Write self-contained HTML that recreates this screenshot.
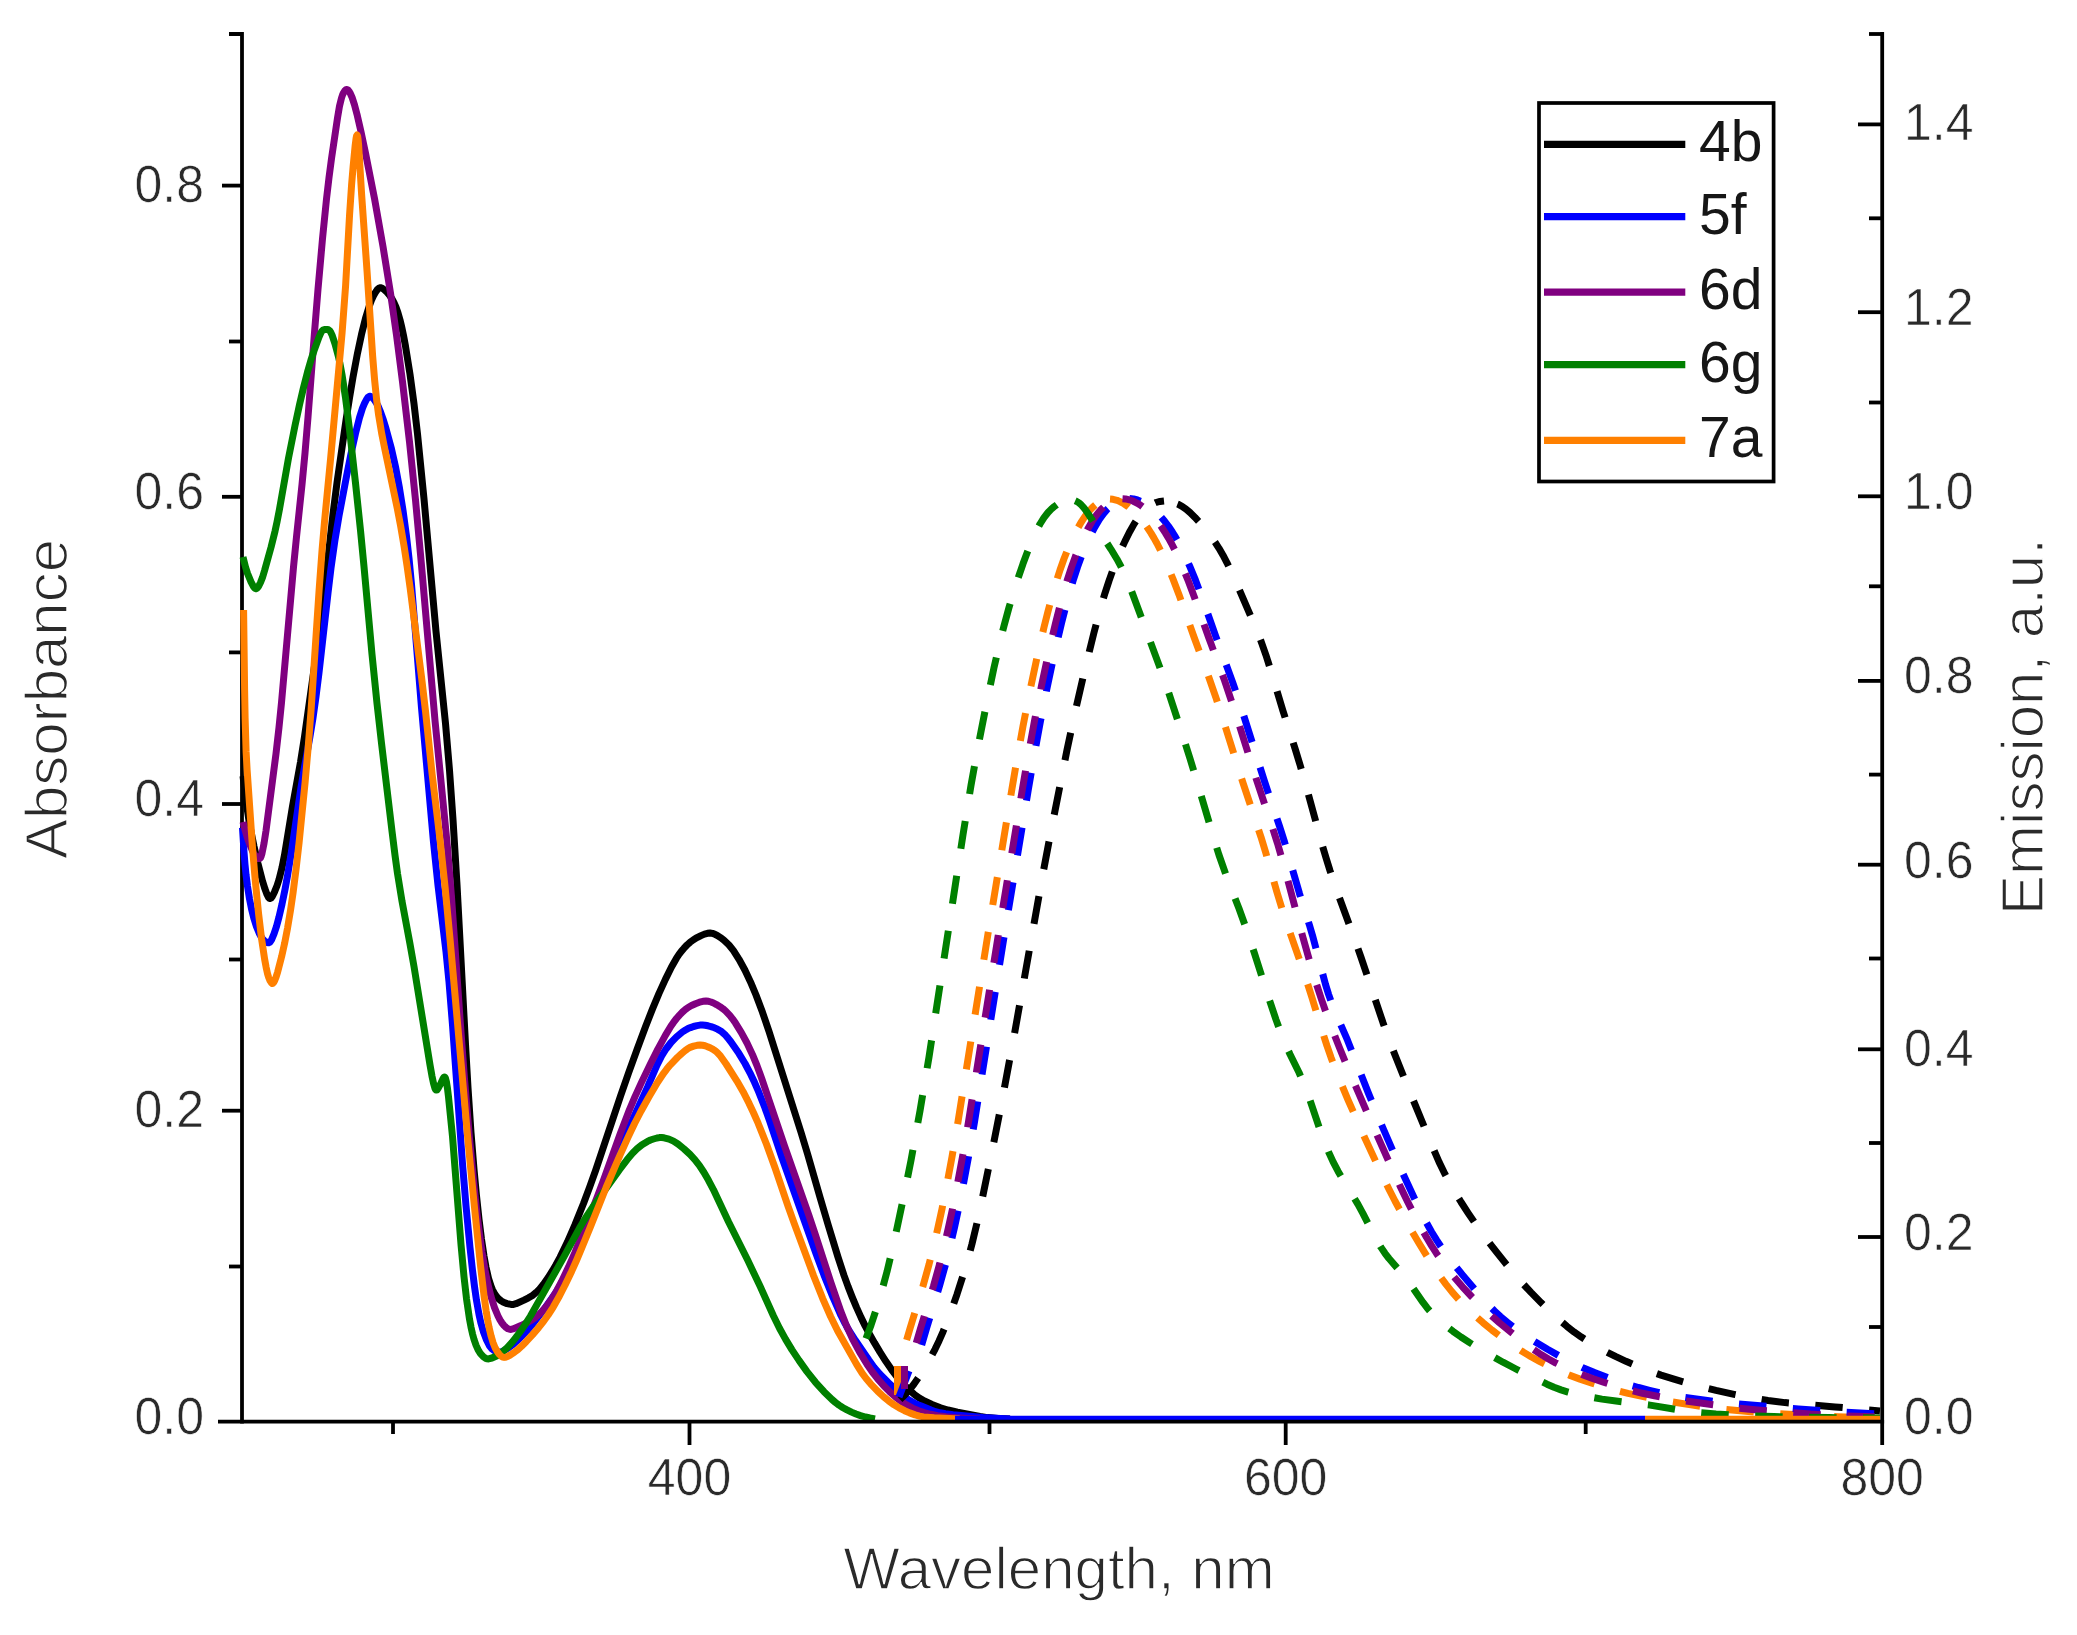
<!DOCTYPE html>
<html lang="en"><head><meta charset="utf-8"><title>Absorbance and emission spectra</title>
<style>
html,body{margin:0;padding:0;background:#fff;}
body{width:2077px;height:1635px;overflow:hidden;}
svg{display:block;font-family:"Liberation Sans",sans-serif;}
</style></head><body>
<svg width="2077" height="1635" viewBox="0 0 2077 1635">
<rect width="2077" height="1635" fill="#ffffff"/>
<defs><clipPath id="plot"><rect x="200" y="34.0" width="1682.2" height="1387.7"/></clipPath></defs>
<g stroke="#000" stroke-width="3.8" fill="none">
<line x1="242.0" y1="32.1" x2="242.0" y2="1423.6"/>
<line x1="229.0" y1="1266.5" x2="242.0" y2="1266.5"/>
<line x1="222.0" y1="1110.7" x2="242.0" y2="1110.7"/>
<line x1="229.0" y1="959.5" x2="242.0" y2="959.5"/>
<line x1="222.0" y1="804.0" x2="242.0" y2="804.0"/>
<line x1="229.0" y1="652.4" x2="242.0" y2="652.4"/>
<line x1="222.0" y1="496.8" x2="242.0" y2="496.8"/>
<line x1="229.0" y1="341.5" x2="242.0" y2="341.5"/>
<line x1="222.0" y1="185.6" x2="242.0" y2="185.6"/>
<line x1="229.0" y1="34.0" x2="242.0" y2="34.0"/>
</g>
<g fill="none" stroke-width="7.0" stroke-linejoin="round" clip-path="url(#plot)">
<path stroke="#000000" d="M243.0 776.0L247.0 807.7L249.0 820.6L251.0 831.7L254.0 846.3L258.0 863.5L262.5 881.0L265.0 889.1L267.0 894.4L268.5 897.3L269.5 898.4L270.0 898.5L271.0 898.1L272.5 896.1L274.5 891.9L277.0 885.7L279.0 879.5L282.0 867.6L284.5 855.0L292.5 806.4L300.5 762.1L304.5 736.7L314.5 666.1L320.5 621.0L325.0 584.2L333.0 514.1L337.0 482.6L346.0 420.2L349.5 397.9L353.0 377.2L357.5 353.2L361.5 334.4L365.5 318.4L369.5 305.4L371.5 300.1L373.5 295.7L375.5 292.2L377.5 289.4L379.0 288.1L380.5 287.7L382.0 288.1L384.0 289.5L387.0 292.3L389.5 295.2L392.0 299.0L394.0 302.7L396.0 307.2L398.0 312.9L400.0 319.9L401.5 326.0L403.5 335.5L405.5 346.2L410.0 374.3L414.0 403.7L417.5 433.8L424.0 498.9L436.0 631.4L445.5 723.4L449.5 770.2L453.0 819.6L457.0 884.5L465.5 1044.2L468.0 1087.8L471.0 1132.4L474.0 1169.4L476.5 1195.9L479.0 1219.1L481.5 1239.2L484.0 1256.1L486.0 1267.2L488.5 1278.2L491.0 1286.1L492.5 1289.8L494.0 1292.7L496.0 1295.8L498.5 1298.7L501.0 1300.8L503.5 1302.3L507.0 1303.6L511.0 1304.4L513.5 1304.4L516.0 1303.7L524.0 1300.1L528.5 1297.8L532.5 1295.4L536.0 1292.6L539.5 1289.1L543.5 1284.2L548.0 1277.8L552.5 1270.7L556.0 1264.7L560.0 1257.3L567.5 1241.9L575.0 1224.6L583.5 1203.5L589.5 1187.6L595.5 1170.8L620.5 1096.2L628.5 1073.2L637.5 1048.2L645.5 1026.7L652.5 1008.9L659.0 993.4L665.5 979.1L671.5 967.0L676.5 958.2L679.0 954.4L681.5 951.1L684.0 948.2L687.0 945.0L690.0 942.3L693.5 939.7L697.0 937.6L701.0 935.6L704.5 934.1L707.5 933.3L710.0 933.0L712.5 933.4L715.0 934.3L717.5 935.6L720.5 937.6L724.0 940.3L729.0 945.0L733.5 950.6L739.0 959.3L745.0 970.3L750.5 981.9L756.0 995.0L762.5 1012.3L769.0 1031.4L801.0 1132.3L807.5 1153.8L820.0 1197.3L828.5 1226.1L838.0 1257.1L844.0 1275.4L848.0 1286.4L852.0 1296.6L856.5 1307.4L861.0 1317.4L865.0 1325.6L869.0 1333.2L874.5 1342.9L880.0 1352.1L886.0 1361.6L891.5 1369.6L896.5 1376.2L902.0 1382.6L908.0 1388.8L914.0 1394.2L919.0 1397.9L924.5 1401.0L932.0 1404.5L940.5 1407.8L948.0 1410.0L957.5 1412.2L980.0 1416.4L987.5 1417.6L998.0 1418.6L1010.0 1419.0"/>
<path stroke="#0000ff" d="M242.5 827.8L244.0 851.9L245.0 864.6L246.0 874.5L247.5 886.3L249.5 898.9L251.5 908.9L254.0 918.8L256.5 926.7L259.5 933.8L261.0 936.6L262.5 938.9L264.0 940.5L265.5 941.7L267.0 942.5L268.5 942.8L269.5 942.5L270.0 942.1L271.5 939.8L274.0 933.8L276.5 926.3L279.0 917.0L282.0 904.1L285.0 889.5L287.5 875.9L291.5 851.5L301.0 787.6L304.0 769.9L310.0 736.5L313.0 717.9L316.0 696.7L319.0 672.9L328.0 593.1L331.0 568.2L335.0 539.8L339.0 516.0L346.5 476.3L351.0 453.7L355.5 433.5L359.5 417.6L362.5 408.1L364.5 403.4L366.5 399.5L368.0 397.4L369.5 396.3L370.5 396.3L372.0 397.1L374.0 399.3L376.5 403.2L378.5 407.0L380.5 411.8L383.0 418.9L386.0 428.6L391.5 448.9L395.5 466.7L399.5 488.2L403.0 510.3L406.5 536.2L409.0 558.2L411.5 584.3L421.5 707.8L433.5 842.1L438.0 885.3L446.0 951.8L449.0 982.0L452.5 1025.0L462.5 1163.8L466.0 1205.7L470.0 1247.5L472.5 1270.3L474.5 1286.5L476.5 1300.4L479.0 1314.5L481.0 1323.4L483.5 1332.1L486.5 1340.0L489.5 1345.8L491.5 1348.5L493.5 1350.2L496.5 1351.5L498.5 1351.9L500.0 1351.9L502.0 1351.6L504.5 1350.4L509.0 1347.5L512.5 1345.0L517.0 1341.0L521.5 1336.6L527.0 1330.7L532.0 1324.9L542.5 1311.4L555.0 1293.7L561.0 1284.4L566.5 1275.1L571.0 1266.6L575.5 1257.1L582.5 1240.6L603.0 1189.1L611.5 1168.7L633.5 1117.6L647.5 1087.2L657.0 1065.2L661.5 1056.2L666.0 1049.0L671.0 1042.5L676.5 1036.9L682.5 1031.9L685.5 1030.0L688.0 1028.6L690.5 1027.6L693.5 1026.5L697.0 1025.6L700.0 1025.1L702.5 1025.0L705.0 1025.2L708.0 1025.8L711.0 1026.6L714.5 1027.8L717.5 1029.2L721.5 1031.6L725.5 1035.2L728.0 1038.1L731.0 1042.0L739.0 1053.6L745.0 1063.5L751.0 1074.9L754.5 1082.3L758.0 1090.3L765.0 1108.0L769.5 1120.7L781.5 1156.4L816.0 1253.6L824.0 1275.1L833.0 1297.4L841.0 1315.5L845.0 1323.4L848.5 1329.7L855.5 1340.6L869.0 1360.3L874.0 1367.2L880.0 1374.2L888.0 1382.3L897.0 1390.7L905.0 1397.2L909.5 1400.3L914.5 1403.1L920.0 1405.6L931.0 1410.1L935.5 1411.7L940.0 1412.8L945.5 1413.7L953.0 1414.7L983.0 1417.5L996.0 1418.3L1010.0 1419.0"/>
<path stroke="#800080" d="M243.0 822.0L245.0 829.8L247.0 836.6L249.0 842.4L252.0 849.7L253.5 853.0L255.0 855.4L257.0 857.5L258.5 858.5L259.5 858.6L260.0 858.3L260.5 857.7L261.0 856.6L262.0 853.4L264.0 843.5L266.0 830.8L276.0 753.7L279.0 727.4L281.5 702.7L293.5 567.1L296.5 536.8L302.0 484.7L305.0 453.2L308.0 417.3L314.5 332.4L318.0 289.3L322.5 238.8L326.5 199.0L329.0 177.6L331.5 158.6L337.5 118.0L339.5 106.2L341.5 98.0L342.5 95.0L343.5 92.8L345.0 90.5L346.0 89.6L347.0 89.4L348.0 90.0L349.0 91.2L350.0 92.8L352.0 97.2L354.5 104.9L357.0 114.3L361.0 131.8L365.5 152.9L374.5 198.5L383.0 246.5L390.5 293.0L396.5 334.9L402.5 381.8L409.5 441.8L415.5 499.9L421.0 559.8L435.0 720.5L447.5 847.5L451.5 897.4L460.5 1025.5L464.5 1079.0L469.5 1138.3L474.5 1190.7L477.0 1213.9L479.5 1234.3L482.0 1252.0L485.0 1269.9L488.0 1284.6L491.0 1296.6L494.5 1307.6L498.0 1316.0L500.0 1319.9L502.0 1323.0L504.0 1325.5L506.0 1327.4L508.0 1328.8L509.5 1329.3L511.0 1329.4L513.0 1328.9L521.0 1325.6L526.5 1322.9L531.5 1320.1L535.5 1317.3L539.5 1313.9L543.5 1309.8L547.5 1304.9L551.5 1299.4L556.5 1291.2L561.5 1281.7L568.5 1267.1L575.0 1252.4L587.5 1221.8L597.5 1196.4L603.5 1180.3L620.5 1133.0L629.5 1109.6L635.0 1096.6L641.5 1082.4L650.5 1063.7L658.0 1048.9L665.5 1035.1L671.0 1026.0L673.5 1022.4L676.5 1018.5L679.5 1015.1L682.5 1012.0L685.5 1009.4L688.5 1007.2L691.5 1005.5L695.5 1003.7L699.5 1002.2L703.0 1001.3L706.0 1001.0L708.5 1001.3L711.0 1002.0L713.5 1003.0L716.5 1004.6L720.0 1006.7L723.0 1008.8L725.5 1010.9L730.0 1015.6L732.5 1018.8L735.5 1023.1L741.5 1032.8L747.0 1043.0L752.5 1054.7L757.0 1065.6L761.5 1077.9L784.5 1145.9L809.0 1215.6L815.5 1235.0L831.0 1282.9L841.0 1311.8L846.5 1325.8L852.5 1338.8L859.5 1351.9L867.0 1364.2L872.0 1371.5L877.5 1378.6L883.5 1385.5L889.5 1391.6L895.5 1397.0L901.0 1401.3L906.5 1404.9L912.5 1408.1L918.5 1410.7L924.0 1412.6L930.5 1414.3L937.5 1415.6L946.0 1416.7L956.0 1417.7L968.5 1418.5L980.0 1419.0"/>
<path stroke="#008000" d="M243.0 557.0L245.5 567.0L247.5 573.4L251.0 581.8L253.5 586.6L254.5 587.9L255.5 588.6L256.0 588.7L257.0 588.3L258.5 586.5L260.5 582.5L262.5 577.4L264.5 570.8L271.0 547.4L275.0 531.3L277.0 522.0L279.5 509.1L288.5 458.1L295.0 425.6L299.5 404.8L303.5 387.6L307.5 372.0L311.0 359.9L314.0 350.8L319.0 337.1L321.0 332.6L322.0 331.0L323.0 330.1L324.5 329.6L327.0 329.5L328.5 329.8L329.5 330.5L330.5 331.8L332.0 334.9L335.0 343.8L338.5 356.8L340.0 363.8L342.0 374.6L345.5 397.6L349.5 429.4L355.5 483.0L360.5 530.4L364.0 566.7L372.0 654.2L377.0 703.4L381.5 743.2L392.0 831.1L395.0 855.2L397.5 873.5L402.0 901.2L410.0 944.0L414.0 966.5L430.0 1064.9L432.0 1076.2L433.5 1083.3L435.0 1088.5L435.5 1089.5L436.0 1090.1L436.5 1090.1L437.0 1089.9L438.0 1088.5L441.0 1083.1L443.0 1078.8L444.0 1077.3L444.5 1077.1L445.0 1077.3L445.5 1078.3L446.5 1082.2L447.5 1088.6L448.5 1096.9L452.5 1136.5L461.0 1244.5L464.0 1276.7L466.5 1298.7L469.5 1319.2L471.0 1327.2L472.5 1333.8L474.0 1339.3L476.0 1345.1L478.0 1349.6L480.5 1353.7L483.5 1356.9L486.0 1358.5L487.0 1358.8L488.5 1358.9L492.0 1358.0L496.5 1356.0L501.5 1352.7L507.0 1347.8L512.0 1342.4L516.5 1336.8L521.5 1329.9L526.0 1323.2L530.5 1316.0L563.5 1257.6L579.5 1228.1L585.5 1218.0L593.5 1206.0L619.5 1169.6L627.0 1159.8L632.5 1153.3L637.0 1148.8L642.0 1144.7L647.5 1141.4L650.5 1140.0L653.5 1139.0L657.0 1138.0L659.5 1137.6L661.5 1137.5L664.0 1137.8L669.0 1139.1L673.5 1141.1L678.0 1144.0L684.0 1148.9L690.0 1154.4L695.0 1159.8L699.5 1165.6L704.0 1172.5L708.5 1180.3L713.5 1189.8L728.5 1221.8L748.0 1260.8L760.0 1286.1L773.5 1316.0L779.5 1328.2L785.5 1339.1L792.0 1349.9L799.0 1360.4L807.0 1371.6L815.5 1382.3L824.0 1391.7L832.0 1399.5L835.5 1402.5L839.0 1405.1L843.0 1407.7L847.0 1409.9L851.5 1412.1L856.0 1414.0L860.5 1415.6L865.5 1417.0L870.0 1418.0L875.0 1418.9"/>
<path stroke="#ff8000" d="M243.6 610.0L244.6 689.5L245.1 717.6L246.1 751.7L247.1 769.6L252.6 849.0L255.1 878.8L258.6 913.8L261.6 939.0L264.6 959.0L266.1 967.2L267.6 973.9L268.6 977.2L270.1 980.9L271.6 983.1L272.1 983.4L272.6 983.4L273.6 982.6L274.6 980.8L276.1 976.9L277.6 972.2L281.6 956.7L284.6 943.3L287.6 927.8L290.6 909.7L293.1 892.4L296.1 868.8L299.1 842.5L305.1 782.3L308.1 748.2L311.1 709.8L319.1 590.2L322.1 549.6L324.6 520.7L330.6 458.7L342.1 332.8L345.6 285.7L349.6 214.3L351.6 184.8L353.1 166.8L355.1 146.0L356.1 138.2L356.6 135.8L357.1 135.0L357.6 136.1L358.1 139.5L358.6 145.0L361.6 194.2L367.1 272.0L372.6 355.6L374.6 379.9L376.6 399.5L378.6 415.0L381.6 433.0L384.6 448.1L397.1 507.5L400.6 525.9L404.1 546.4L407.1 566.1L410.1 587.7L421.6 677.8L425.6 712.0L432.1 774.0L440.1 840.3L445.1 887.3L450.1 939.8L468.1 1142.0L474.6 1208.5L480.6 1266.5L484.1 1296.3L486.1 1310.6L487.6 1319.8L489.1 1327.6L491.1 1336.1L493.1 1342.7L495.1 1347.7L497.1 1351.3L499.1 1354.1L501.1 1356.1L502.6 1357.1L504.1 1357.4L505.6 1357.2L507.6 1356.5L510.1 1355.1L514.6 1352.1L518.1 1349.4L521.6 1346.2L526.1 1341.7L532.6 1334.6L538.6 1327.6L543.6 1321.3L548.1 1315.0L553.1 1307.3L558.6 1297.6L565.1 1285.0L571.6 1271.4L576.6 1260.2L582.1 1247.2L590.6 1226.4L606.1 1187.5L620.1 1154.8L628.1 1137.1L634.6 1123.5L641.1 1111.0L648.6 1097.5L657.6 1082.3L663.6 1073.3L666.6 1069.3L670.1 1065.1L677.6 1057.3L681.6 1053.6L685.1 1050.6L687.6 1048.8L690.1 1047.4L693.6 1046.1L697.1 1045.3L700.1 1045.0L702.6 1045.3L705.1 1045.8L707.6 1046.7L710.6 1048.0L713.1 1049.4L715.1 1050.7L717.1 1052.4L720.6 1056.2L726.1 1064.0L737.1 1081.3L743.1 1091.7L749.1 1103.4L753.6 1113.0L758.1 1123.2L766.6 1144.5L775.1 1168.0L788.1 1206.3L794.1 1223.2L813.6 1275.7L822.6 1298.3L830.6 1316.5L837.6 1330.7L856.6 1364.4L862.1 1373.2L866.1 1378.5L870.6 1383.8L877.6 1391.1L883.6 1396.7L888.6 1400.8L894.1 1404.8L899.1 1407.9L904.6 1410.7L909.6 1412.9L915.1 1414.9L919.6 1416.1L923.6 1416.9L934.1 1417.8L959.6 1419.0"/>
</g>
<g fill="none" stroke-width="7.0" stroke-linejoin="round" clip-path="url(#plot)">
<path stroke="#000000" stroke-dasharray="28.2 27.3" stroke-dashoffset="0.0" d="M900.0 1399.6L905.0 1394.7L910.0 1389.1L914.0 1384.0L919.0 1376.9L925.0 1367.4L930.0 1358.8L935.0 1349.3L939.0 1340.9L943.0 1331.8L948.0 1319.4L952.0 1308.6L957.0 1294.3L965.0 1269.3L969.0 1255.3L972.0 1243.9L977.0 1223.0L982.0 1200.0L994.0 1141.4L1002.0 1100.9L1015.0 1030.9L1043.0 873.2L1051.0 831.1L1067.0 750.0L1075.0 712.4L1085.0 669.0L1094.0 632.5L1098.0 617.4L1102.0 603.1L1105.0 593.1L1109.0 580.8L1113.0 569.5L1117.0 559.2L1121.0 549.8L1125.0 541.1L1130.0 531.2L1134.0 524.1L1138.0 518.0L1141.0 514.0L1144.0 510.6L1148.0 507.0L1152.0 504.3L1156.0 502.5L1160.0 501.4L1164.0 501.0"/>
<path stroke="#000000" stroke-dasharray="27.5 26.5" stroke-dashoffset="40.1" d="M1164.0 501.0L1168.0 501.3L1173.0 502.3L1178.0 504.2L1182.0 506.3L1186.0 509.1L1190.0 512.5L1195.0 517.4L1200.0 522.8L1205.0 528.7L1210.0 535.1L1215.0 542.1L1219.0 548.3L1223.0 555.2L1227.0 562.8L1231.0 571.0L1236.0 582.0L1256.0 628.4L1261.0 641.1L1266.0 655.3L1271.0 671.1L1283.0 710.9L1295.0 748.4L1300.0 764.8L1307.0 789.3L1322.0 844.2L1326.0 857.8L1330.0 870.6L1337.0 891.1L1354.0 937.6L1361.0 957.2L1383.0 1022.7L1389.0 1039.3L1395.0 1055.0L1404.0 1077.6L1433.0 1148.1L1439.0 1161.9L1445.0 1174.2L1450.0 1183.6L1455.0 1192.2L1461.0 1202.0L1468.0 1212.8L1475.0 1223.1L1482.0 1232.9L1489.0 1242.4L1497.0 1252.7L1506.0 1263.9L1515.0 1274.7L1523.0 1283.8L1531.0 1292.4L1541.0 1302.6L1551.0 1312.3L1559.0 1319.6L1567.0 1326.4L1574.0 1331.9L1581.0 1336.8L1589.0 1342.0L1598.0 1347.3L1607.0 1352.1L1616.0 1356.6L1626.0 1361.3L1637.0 1366.0L1649.0 1370.8L1661.0 1375.1L1674.0 1379.2L1688.0 1383.3L1702.0 1387.0L1716.0 1390.4L1734.0 1394.3L1750.0 1397.5L1768.0 1400.5L1785.0 1402.6L1835.0 1406.9L1880.0 1411.0"/>
<line stroke="#ff8000" x1="897.5" y1="1395.0" x2="897.5" y2="1366.0"/>
<path stroke="#ff8000" stroke-dasharray="28.2 27.3" stroke-dashoffset="42.6" d="M903.0 1352.4L910.0 1328.5L923.0 1286.0L929.0 1264.5L933.0 1248.8L938.0 1227.4L942.0 1208.9L946.0 1189.1L952.0 1156.9L958.0 1121.8L988.0 933.8L1012.0 788.5L1017.0 759.2L1023.0 726.2L1030.0 690.5L1037.0 657.5L1044.0 627.3L1048.0 611.3L1052.0 596.4L1056.0 582.6L1060.0 570.0L1064.0 558.8L1068.0 548.6L1072.0 539.5L1076.0 531.4L1081.0 522.5L1085.0 516.4L1089.0 511.2L1093.0 507.0L1097.0 503.7L1101.0 501.3L1104.0 500.1L1106.0 499.5L1110.0 499.1"/>
<path stroke="#ff8000" stroke-dasharray="27.5 26.5" stroke-dashoffset="6.8" d="M1110.0 499.1L1113.0 499.3L1117.0 500.3L1120.0 501.6L1124.0 503.8L1128.0 506.5L1132.0 509.8L1136.0 513.6L1140.0 518.0L1144.0 522.9L1147.0 527.0L1151.0 533.1L1154.0 538.1L1157.0 543.5L1161.0 551.4L1168.0 566.8L1173.0 579.0L1179.0 594.7L1194.0 637.0L1209.0 677.7L1216.0 697.8L1223.0 719.4L1243.0 782.9L1261.0 837.1L1266.0 853.6L1277.0 892.4L1283.0 912.0L1288.0 926.9L1300.0 961.1L1306.0 978.9L1312.0 997.7L1322.0 1030.4L1327.0 1045.9L1331.0 1057.4L1336.0 1070.7L1341.0 1083.1L1348.0 1099.8L1364.0 1136.1L1382.0 1175.0L1389.0 1189.3L1395.0 1201.0L1402.0 1213.9L1410.0 1228.1L1419.0 1243.2L1428.0 1257.9L1435.0 1268.8L1441.0 1277.6L1446.0 1284.4L1452.0 1291.9L1459.0 1299.8L1466.0 1307.1L1474.0 1314.8L1483.0 1322.7L1492.0 1330.1L1502.0 1337.7L1512.0 1344.8L1522.0 1351.3L1531.0 1356.7L1540.0 1361.6L1550.0 1366.6L1560.0 1371.2L1570.0 1375.4L1580.0 1379.1L1592.0 1383.2L1604.0 1386.9L1616.0 1390.3L1628.0 1393.3L1641.0 1396.1L1655.0 1398.9L1671.0 1401.7L1691.0 1404.9L1707.0 1407.2L1722.0 1409.1L1751.0 1411.8L1784.0 1414.0L1837.0 1416.7L1880.0 1418.0"/>
<line stroke="#0000ff" x1="899.0" y1="1397.0" x2="909.0" y2="1371.0"/>
<path stroke="#0000ff" stroke-dasharray="28.2 27.3" stroke-dashoffset="47.8" d="M919.5 1352.4L926.5 1328.5L939.5 1286.0L945.5 1264.5L949.5 1248.8L954.5 1227.4L958.5 1208.9L962.5 1189.1L968.5 1156.9L974.5 1121.8L1004.5 933.8L1028.5 788.5L1033.5 759.2L1040.5 720.9L1047.5 685.7L1054.5 653.0L1061.5 623.2L1065.5 607.5L1069.5 592.8L1073.5 579.3L1077.5 567.1L1081.5 556.1L1085.5 546.2L1089.5 537.4L1094.5 527.6L1099.5 519.3L1103.5 513.7L1107.5 509.0L1111.5 505.4L1115.5 502.6L1117.5 501.5L1120.5 500.2L1122.5 499.6L1125.5 498.9L1129.5 498.6"/>
<path stroke="#0000ff" stroke-dasharray="27.5 26.5" stroke-dashoffset="16.1" d="M1129.5 498.6L1133.5 499.0L1137.5 500.0L1141.5 501.6L1145.5 503.6L1149.5 506.3L1152.5 508.6L1156.5 512.2L1160.5 516.3L1164.5 521.0L1168.5 526.3L1172.5 532.3L1175.5 537.2L1178.5 542.6L1182.5 550.4L1189.5 565.7L1195.5 580.2L1201.5 596.1L1215.5 635.6L1232.5 681.9L1241.5 708.5L1264.5 781.4L1279.5 826.2L1284.5 841.9L1299.5 893.6L1309.5 925.3L1312.5 935.4L1325.5 984.4L1328.5 994.1L1332.5 1005.3L1335.5 1012.6L1347.5 1040.2L1368.5 1093.4L1382.5 1127.0L1400.5 1168.4L1416.5 1202.9L1421.5 1213.1L1426.5 1222.7L1431.5 1231.7L1436.5 1239.9L1441.5 1247.4L1447.5 1255.8L1454.5 1265.0L1462.5 1274.9L1480.5 1296.2L1487.5 1303.9L1494.5 1311.0L1500.5 1316.6L1507.5 1322.5L1515.5 1328.7L1523.5 1334.3L1534.5 1341.5L1547.5 1349.3L1560.5 1356.6L1572.5 1362.8L1583.5 1368.0L1594.5 1372.6L1607.5 1377.6L1619.5 1381.8L1628.5 1384.7L1638.5 1387.5L1649.5 1390.3L1661.5 1393.1L1672.5 1395.3L1682.5 1397.1L1705.5 1400.3L1720.5 1402.1L1738.5 1403.9L1798.5 1409.0L1840.5 1412.0L1879.5 1414.0"/>
<line stroke="#800080" x1="904.5" y1="1389.0" x2="904.5" y2="1366.0"/>
<path stroke="#800080" stroke-dasharray="28.2 27.3" stroke-dashoffset="45.7" d="M913.5 1352.4L920.5 1328.5L933.5 1286.0L939.5 1264.5L943.5 1248.8L948.5 1227.4L952.5 1208.9L956.5 1189.1L962.5 1156.9L968.5 1121.8L998.5 933.8L1022.5 788.5L1027.5 759.2L1034.5 720.9L1041.5 685.7L1048.5 653.0L1055.5 623.2L1059.5 607.5L1063.5 592.8L1067.5 579.3L1071.5 567.1L1075.5 556.1L1079.5 546.3L1083.5 537.4L1087.5 529.5L1092.5 520.8L1096.5 515.0L1100.5 510.1L1104.5 506.2L1108.5 503.2L1110.5 502.0L1113.5 500.5L1115.5 499.8L1118.5 499.1L1122.5 498.7"/>
<path stroke="#800080" stroke-dasharray="27.5 26.5" stroke-dashoffset="5.7" d="M1122.5 498.7L1125.5 498.9L1129.5 499.8L1133.5 501.3L1137.5 503.3L1141.5 505.9L1145.5 509.0L1149.5 512.6L1153.5 516.9L1157.5 521.6L1161.5 527.0L1165.5 533.1L1168.5 538.1L1171.5 543.5L1175.5 551.4L1182.5 566.8L1188.5 581.5L1194.5 597.5L1208.5 637.0L1224.5 680.4L1234.5 710.0L1256.5 779.8L1272.5 827.7L1277.5 843.4L1284.5 867.6L1302.5 935.8L1311.5 967.8L1316.5 984.2L1321.5 999.5L1326.5 1013.9L1332.5 1030.1L1339.5 1047.8L1347.5 1067.3L1369.5 1118.3L1391.5 1167.6L1400.5 1186.9L1407.5 1201.4L1414.5 1215.2L1420.5 1226.5L1426.5 1237.3L1431.5 1245.6L1436.5 1253.4L1442.5 1262.0L1448.5 1270.0L1454.5 1277.4L1462.5 1286.8L1471.5 1296.5L1480.5 1305.6L1489.5 1314.0L1499.5 1322.9L1510.5 1331.9L1522.5 1341.3L1533.5 1349.4L1541.5 1354.8L1548.5 1359.0L1555.5 1362.8L1563.5 1366.7L1572.5 1370.8L1582.5 1374.8L1592.5 1378.5L1603.5 1382.2L1617.5 1386.6L1630.5 1390.3L1642.5 1393.3L1654.5 1395.8L1668.5 1398.4L1683.5 1400.7L1730.5 1407.2L1744.5 1408.8L1757.5 1410.0L1810.5 1414.1L1846.5 1416.0L1879.5 1417.0"/>
<path stroke="#008000" stroke-dasharray="28.2 27.3" stroke-dashoffset="0.0" d="M866.0 1338.5L871.0 1325.2L877.0 1307.0L882.0 1290.2L887.0 1271.7L892.0 1250.8L897.0 1228.2L905.0 1190.4L911.0 1160.4L920.0 1110.9L929.0 1057.1L963.0 834.7L971.0 785.4L978.0 746.8L987.0 701.0L994.0 667.6L1000.0 641.6L1004.0 625.8L1009.0 607.5L1013.0 594.0L1018.0 578.4L1023.0 563.8L1028.0 550.4L1033.0 538.2L1037.0 529.6L1040.0 524.0L1044.0 517.6L1048.0 512.5L1052.0 508.4L1054.0 506.8L1057.0 504.6L1062.0 502.0L1065.0 500.8L1067.0 500.3L1069.0 500.0L1071.0 499.9"/>
<path stroke="#008000" stroke-dasharray="27.5 26.5" stroke-dashoffset="49.7" d="M1071.0 499.9L1073.0 500.1L1075.0 500.7L1077.0 501.6L1079.0 502.9L1081.0 504.7L1083.0 506.8L1085.0 509.2L1088.0 513.5L1100.0 532.4L1111.0 549.3L1117.0 559.2L1121.0 566.7L1124.0 572.8L1130.0 586.9L1159.0 665.1L1169.0 693.7L1180.0 727.1L1190.0 758.5L1199.0 788.2L1213.0 835.7L1219.0 855.0L1226.0 875.0L1239.0 908.5L1246.0 927.9L1254.0 951.9L1269.0 998.9L1276.0 1019.6L1281.0 1033.2L1286.0 1045.4L1290.0 1054.2L1299.0 1072.5L1304.0 1083.9L1309.0 1097.3L1321.0 1132.7L1325.0 1143.3L1329.0 1152.9L1333.0 1161.6L1338.0 1171.2L1343.0 1179.8L1353.0 1196.0L1358.0 1204.4L1363.0 1213.6L1375.0 1237.0L1381.0 1247.4L1385.0 1253.3L1389.0 1258.5L1402.0 1273.5L1407.0 1279.7L1412.0 1286.5L1423.0 1302.4L1427.0 1307.7L1430.0 1311.2L1435.0 1316.5L1440.0 1321.1L1446.0 1326.0L1453.0 1331.3L1461.0 1337.0L1470.0 1342.9L1479.0 1348.5L1490.0 1354.9L1503.0 1362.2L1515.0 1368.5L1529.0 1375.5L1547.0 1384.2L1554.0 1387.3L1561.0 1389.9L1568.0 1392.1L1575.0 1394.0L1587.0 1396.5L1602.0 1399.1L1616.0 1401.0L1650.0 1405.1L1684.0 1410.8L1697.0 1412.4L1716.0 1414.1L1741.0 1415.6L1774.0 1416.6L1829.0 1417.6L1880.0 1418.0"/>
</g>
<line x1="955" y1="1418" x2="1645" y2="1418" stroke="#0000ff" stroke-width="4.5"/>
<line x1="1645" y1="1418" x2="1880" y2="1418" stroke="#ff8000" stroke-width="4.5"/>
<g stroke="#000" stroke-width="3.8" fill="none" stroke-linecap="butt">
<line x1="1882.2" y1="32.1" x2="1882.2" y2="1445.0"/>
<line x1="218.0" y1="1421.7" x2="1884.1" y2="1421.7"/>
<line x1="229.0" y1="34.0" x2="242.0" y2="34.0"/>
<line x1="1869.0" y1="1327.0" x2="1882.2" y2="1327.0"/>
<line x1="1858.0" y1="1237.0" x2="1882.2" y2="1237.0"/>
<line x1="1869.0" y1="1143.0" x2="1882.2" y2="1143.0"/>
<line x1="1858.0" y1="1049.3" x2="1882.2" y2="1049.3"/>
<line x1="1869.0" y1="958.5" x2="1882.2" y2="958.5"/>
<line x1="1858.0" y1="864.7" x2="1882.2" y2="864.7"/>
<line x1="1869.0" y1="774.6" x2="1882.2" y2="774.6"/>
<line x1="1858.0" y1="680.9" x2="1882.2" y2="680.9"/>
<line x1="1869.0" y1="586.3" x2="1882.2" y2="586.3"/>
<line x1="1858.0" y1="496.3" x2="1882.2" y2="496.3"/>
<line x1="1869.0" y1="402.5" x2="1882.2" y2="402.5"/>
<line x1="1858.0" y1="312.2" x2="1882.2" y2="312.2"/>
<line x1="1869.0" y1="218.3" x2="1882.2" y2="218.3"/>
<line x1="1858.0" y1="124.4" x2="1882.2" y2="124.4"/>
<line x1="1869.0" y1="34.0" x2="1882.2" y2="34.0"/>
<line x1="393.0" y1="1421.7" x2="393.0" y2="1434.0"/>
<line x1="689.5" y1="1421.7" x2="689.5" y2="1445.0"/>
<line x1="989.5" y1="1421.7" x2="989.5" y2="1434.0"/>
<line x1="1285.7" y1="1421.7" x2="1285.7" y2="1445.0"/>
<line x1="1585.7" y1="1421.7" x2="1585.7" y2="1434.0"/>
</g>
<rect x="1539" y="103" width="234.6" height="378.5" fill="none" stroke="#000" stroke-width="3.7"/>
<line x1="1544" y1="144.4" x2="1685.3" y2="144.4" stroke="#000000" stroke-width="7.2"/>
<text x="1699" y="160.5" font-size="57" fill="#161616">4b</text>
<line x1="1544" y1="216.7" x2="1685.3" y2="216.7" stroke="#0000ff" stroke-width="7.2"/>
<text x="1699" y="233.6" font-size="57" fill="#161616">5f</text>
<line x1="1544" y1="292.2" x2="1685.3" y2="292.2" stroke="#800080" stroke-width="7.2"/>
<text x="1699" y="309.0" font-size="57" fill="#161616">6d</text>
<line x1="1544" y1="364.7" x2="1685.3" y2="364.7" stroke="#008000" stroke-width="7.2"/>
<text x="1699" y="382.0" font-size="57" fill="#161616">6g</text>
<line x1="1544" y1="440.3" x2="1685.3" y2="440.3" stroke="#ff8000" stroke-width="7.2"/>
<text x="1699" y="457.0" font-size="57" fill="#161616">7a</text>
<g font-size="50" fill="#2a2a2a" stroke="#ffffff" stroke-width="0.6">
<text transform="translate(204,1434.0) scale(1,1.03)" text-anchor="end">0.0</text>
<text transform="translate(204,1127.0) scale(1,1.03)" text-anchor="end">0.2</text>
<text transform="translate(204,816.2) scale(1,1.03)" text-anchor="end">0.4</text>
<text transform="translate(204,509.0) scale(1,1.03)" text-anchor="end">0.6</text>
<text transform="translate(204,201.9) scale(1,1.03)" text-anchor="end">0.8</text>
<text transform="translate(1904,140.4) scale(1,1.03)">1.4</text>
<text transform="translate(1904,324.8) scale(1,1.03)">1.2</text>
<text transform="translate(1904,509.2) scale(1,1.03)">1.0</text>
<text transform="translate(1904,693.1) scale(1,1.03)">0.8</text>
<text transform="translate(1904,877.8) scale(1,1.03)">0.6</text>
<text transform="translate(1904,1066.1) scale(1,1.03)">0.4</text>
<text transform="translate(1904,1250.0) scale(1,1.03)">0.2</text>
<text transform="translate(1904,1434.2) scale(1,1.03)">0.0</text>
<text transform="translate(689.5,1495.3) scale(1,1.03)" text-anchor="middle">400</text>
<text transform="translate(1285.7,1495.3) scale(1,1.03)" text-anchor="middle">600</text>
<text transform="translate(1882.2,1495.3) scale(1,1.03)" text-anchor="middle">800</text>
</g>
<g font-size="60" fill="#2a2a2a" stroke="#ffffff" stroke-width="1.4">
<text x="1059" y="1589" text-anchor="middle">Wavelength, nm</text>
<text transform="translate(66.8,699) rotate(-90)" text-anchor="middle">Absorbance</text>
<text transform="translate(2042.6,726.5) rotate(-90)" text-anchor="middle">Emission, a.u.</text>
</g>
</svg>
</body></html>
